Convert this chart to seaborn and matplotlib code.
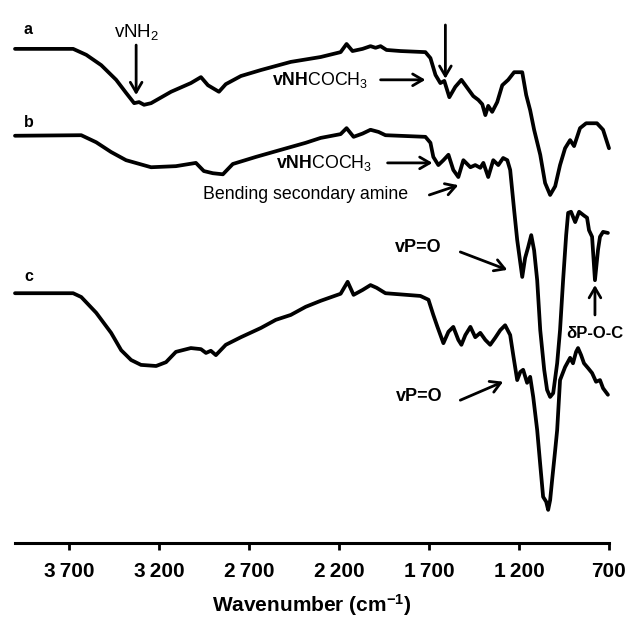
import matplotlib
matplotlib.use("Agg")
import matplotlib.pyplot as plt
import seaborn as sns
import pandas as pd

# ---------------- data ----------------
wn_a = [4000, 3677, 3604, 3521, 3438, 3383, 3338, 3311, 3283, 3244, 3133, 3023, 2967, 2928,
        2867, 2829, 2745, 2634, 2468, 2302, 2191, 2158, 2125, 2069, 2025, 1997, 1969, 1936,
        1858, 1720, 1692, 1664, 1637, 1615, 1587, 1554, 1520, 1487, 1454, 1426, 1404, 1387,
        1371, 1349, 1321, 1293, 1260, 1227, 1182, 1160, 1138, 1116, 1082, 1055, 1027, 999,
        972, 944, 916, 894, 861, 827, 767, 733, 700]
t_a = [91.0, 91.0, 89.9, 88.0, 85.3, 82.9, 81.0, 81.2, 80.7, 81.0, 83.1, 84.7, 85.8, 84.3,
       83.1, 84.5, 86.0, 87.1, 88.6, 89.5, 90.4, 91.9, 90.6, 91.0, 91.5, 91.2, 91.5, 90.8,
       90.6, 90.4, 89.3, 86.2, 84.7, 85.1, 82.1, 84.0, 85.3, 83.8, 82.3, 81.6, 80.8, 78.8,
       80.5, 79.4, 81.2, 84.3, 85.3, 86.7, 86.7, 82.5, 79.7, 76.1, 71.5, 66.3, 64.1, 65.7,
       69.6, 72.7, 74.2, 73.1, 76.4, 77.3, 77.3, 76.1, 72.7]

wn_b = [4000, 3632, 3549, 3466, 3383, 3244, 3106, 2995, 2951, 2901, 2845, 2790, 2662, 2524,
        2385, 2302, 2191, 2158, 2119, 2069, 2025, 1980, 1942, 1720, 1692, 1676, 1648, 1620,
        1592, 1565, 1537, 1509, 1470, 1443, 1415, 1398, 1371, 1343, 1315, 1288, 1265, 1249,
        1227, 1210, 1182, 1166, 1149, 1132, 1116, 1099, 1082, 1060, 1044, 1027, 1010, 988,
        972, 955, 938, 927, 911, 888, 866, 839, 822, 811, 794, 778, 761, 750, 733, 706]
t_b = [75.0, 75.1, 73.8, 72.0, 70.5, 69.2, 69.4, 70.0, 68.5, 68.1, 67.9, 69.8, 71.1, 72.4,
       73.7, 74.6, 75.3, 76.4, 74.8, 75.4, 76.1, 75.7, 75.1, 74.8, 73.7, 71.1, 69.6, 70.5,
       71.5, 68.7, 67.4, 70.5, 69.2, 69.6, 69.1, 70.0, 67.4, 70.5, 69.6, 70.9, 70.5, 68.7,
       61.3, 55.8, 49.0, 52.5, 54.5, 56.7, 53.9, 48.4, 39.2, 31.9, 28.2, 26.9, 27.6, 33.1,
       39.2, 48.4, 56.7, 60.8, 61.0, 59.1, 61.0, 60.3, 59.9, 57.6, 56.4, 48.4, 54.0, 56.4,
       57.3, 57.1]

wn_c = [4000, 3677, 3632, 3549, 3466, 3410, 3355, 3300, 3216, 3161, 3106, 3023, 2967, 2939,
        2912, 2884, 2829, 2745, 2634, 2551, 2468, 2385, 2302, 2191, 2152, 2119, 2069, 2025,
        1991, 1942, 1748, 1703, 1676, 1653, 1620, 1592, 1565, 1537, 1520, 1498, 1470, 1443,
        1415, 1387, 1360, 1332, 1304, 1277, 1249, 1232, 1210, 1193, 1177, 1155, 1138, 1121,
        1099, 1082, 1066, 1049, 1038, 1027, 1016, 999, 988, 972, 944, 916, 900, 883, 872,
        855, 839, 816, 794, 772, 750, 733, 706]
t_c = [46.0, 46.0, 45.3, 42.4, 38.7, 35.5, 33.7, 32.8, 32.6, 33.3, 35.2, 35.9, 35.7, 35.0,
       35.4, 34.6, 36.5, 37.9, 39.6, 41.1, 42.0, 43.5, 44.6, 45.9, 48.1, 45.7, 46.6, 47.5,
       47.0, 46.0, 45.5, 44.8, 42.0, 39.8, 36.8, 38.9, 39.8, 37.4, 36.5, 38.3, 39.8, 37.9,
       38.7, 37.4, 36.5, 37.8, 39.2, 40.1, 38.3, 34.6, 30.0, 31.5, 31.9, 29.5, 30.6, 26.9,
       20.8, 14.4, 8.5, 7.6, 6.1, 7.9, 11.6, 17.1, 20.8, 30.0, 32.4, 34.1, 33.1, 35.2, 35.9,
       34.6, 33.1, 32.2, 31.3, 29.7, 30.0, 28.5, 27.3]

tick_values = [3700, 3200, 2700, 2200, 1700, 1200, 700]
tick_labels = ["3\u2009700", "3\u2009200", "2\u2009700", "2\u2009200", "1\u2009700", "1\u2009200", "700"]
curve_names = ["a", "b", "c"]

# ---------------- style ----------------
sns.set_theme(style="white")
plt.rcParams["font.family"] = ["Liberation Sans", "DejaVu Sans"]
plt.rcParams["mathtext.fontset"] = "custom"
plt.rcParams["mathtext.rm"] = "Liberation Sans"
plt.rcParams["mathtext.it"] = "Liberation Sans:italic"
plt.rcParams["mathtext.bf"] = "Liberation Sans:bold"
plt.rcParams["text.color"] = "black"
plt.rcParams["axes.labelcolor"] = "black"
plt.rcParams["xtick.color"] = "black"

W, H = 629, 619
fig = plt.figure(figsize=(W / 100, H / 100), dpi=100)
ax = fig.add_axes([15 / W, (H - 543) / H, (609 - 15) / W, 543 / H])

df = pd.concat([
    pd.DataFrame({"wn": wn_a, "T": t_a, "curve": "a"}),
    pd.DataFrame({"wn": wn_b, "T": t_b, "curve": "b"}),
    pd.DataFrame({"wn": wn_c, "T": t_c, "curve": "c"}),
])
for name in curve_names:
    sub = df[df["curve"] == name]
    sns.lineplot(data=sub, x="wn", y="T", ax=ax, color="black", lw=2.7,
                 sort=False, estimator=None, legend=False,
                 solid_joinstyle="round", solid_capstyle="round", clip_on=False)

ax.set_xlim(4000, 700)
ax.set_ylim(0, 100)
for s in ["left", "top", "right"]:
    ax.spines[s].set_visible(False)
ax.spines["bottom"].set_linewidth(2.2)
ax.spines["bottom"].set_color("black")
ax.set_yticks([])
ax.set_ylabel("")
ax.set_xticks(tick_values)
ax.set_xticklabels(tick_labels, fontsize=15, fontweight="bold", color="black")
ax.tick_params(axis="x", direction="out", length=5, width=2, pad=8.5, colors="black", bottom=True)
ax.set_xlabel(r"Wavenumber (cm$^{\mathbf{-1}}$)", fontsize=15, fontweight="bold",
              labelpad=8, color="black")

# curve letters
ax.text(3926, 94.5, "a", fontsize=11.5, fontweight="bold", ha="center", va="center")
ax.text(3926, 77.5, "b", fontsize=11.5, fontweight="bold", ha="center", va="center")
ax.text(3926, 49.0, "c", fontsize=11.5, fontweight="bold", ha="center", va="center")

arrow = dict(arrowstyle="->,head_length=0.6,head_width=0.35", lw=2, color="black",
             shrinkA=0, shrinkB=0)

# vNH2
ax.text(3327, 94.1, r"vNH$_2$", fontsize=13.5, ha="center", va="center")
ax.annotate("", xy=(3327, 82.5), xytext=(3327, 91.7), arrowprops=arrow)
# down arrow near 1609
ax.annotate("", xy=(1609, 85.5), xytext=(1609, 95.4), arrowprops=arrow)

# vNHCOCH3 (a)
ax.text(2302, 85.3, r"$\mathbf{vNH}$COCH$_3$", fontsize=12.8, ha="center", va="center")
ax.annotate("", xy=(1720, 85.3), xytext=(1969, 85.3), arrowprops=arrow)
# vNHCOCH3 (b)
ax.text(2285, 70.0, r"$\mathbf{vNH}$COCH$_3$", fontsize=12.8, ha="center", va="center")
ax.annotate("", xy=(1681, 70.0), xytext=(1930, 70.0), arrowprops=arrow)
# Bending secondary amine
ax.text(2385, 64.1, "Bending secondary amine", fontsize=12.8, ha="center", va="center")
ax.annotate("", xy=(1537, 65.9), xytext=(1698, 64.1), arrowprops=arrow)
# vP=O (b)
ax.text(1759, 54.5, "vP=O", fontsize=13, fontweight="bold", ha="center", va="center")
ax.annotate("", xy=(1265, 50.3), xytext=(1526, 53.6), arrowprops=arrow)
# dP-O-C
ax.text(778, 38.6, "\u03b4P-O-C", fontsize=12, fontweight="bold", ha="center", va="center",
        clip_on=False)
ax.annotate("", xy=(778, 47.5), xytext=(778, 42.0), arrowprops=arrow)
# vP=O (c)
ax.text(1753, 26.9, "vP=O", fontsize=13, fontweight="bold", ha="center", va="center")
ax.annotate("", xy=(1288, 29.7), xytext=(1526, 26.3), arrowprops=arrow)

fig.savefig("out.png", dpi=100, facecolor="white")
